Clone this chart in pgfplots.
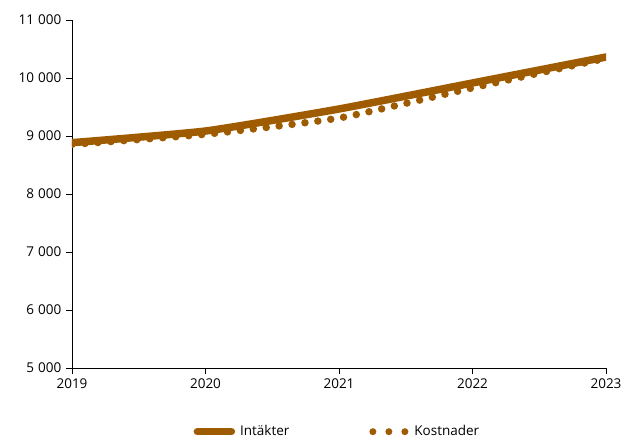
\documentclass[border=0pt]{standalone}
\usepackage{fontspec}
\setmainfont{Open Sans}
\usepackage{pgfplots}
\pgfplotsset{compat=1.18}
\definecolor{brun}{HTML}{9E5B00}
\pgfplotsset{
  linelegend/.style={legend image code/.code={\draw[##1, line width=7.5pt, line cap=round] (0pt,0pt) -- (34pt,0pt);}},
  dotlegend/.style={legend image code/.code={\draw[##1, line width=7pt, line cap=round, dash pattern=on 0pt off 16pt] (0pt,0pt) -- (33pt,0pt);}},
}
\begin{document}
\fontsize{13.5}{15}\selectfont
\begin{tikzpicture}
\useasboundingbox (-72pt,-71pt) rectangle (551pt,368pt);
\begin{axis}[
  scale only axis, width=534pt, height=348pt,
  at={(0pt,0pt)}, anchor=south west,
  xmin=2019, xmax=2023, ymin=5000, ymax=11000,
  scaled y ticks=false,
  xtick={2019,2020,2021,2022,2023},
  ytick={5000,6000,7000,8000,9000,10000,11000},
  axis x line*=bottom, axis y line*=left,
  tick align=outside, major tick length=6pt,
  tick style={black, line width=0.6pt},
  axis line style={black, line width=0.6pt},
  /pgf/number format/assume math mode=true,
  x tick label style={/pgf/number format/1000 sep={}},
  y tick label style={/pgf/number format/1000 sep={\hspace{0.3em}}},
  tick label style={font=\fontsize{13.5}{15}\selectfont},
  legend columns=2,
  legend style={draw=none, at={(0.497,-0.183)}, anchor=center,
    font=\fontsize{13.5}{15}\selectfont,
    /tikz/every odd column/.append style={column sep=3pt},
    /tikz/every even column/.append style={column sep=78pt}},
  legend cell align=left,
]
\addplot[brun, line width=7.5pt, line cap=round, line join=round, smooth, tension=0.3, linelegend]
  coordinates {(2019,8885) (2020,9086) (2021,9466) (2022,9914) (2023,10362)};
\addlegendentry{Intäkter}
\addplot[brun, line width=7.5pt, line cap=round, dash pattern=on 0pt off 13pt, smooth, tension=0.3, dotlegend]
  coordinates {(2019,8855) (2020,9030) (2021,9310) (2022,9830) (2023,10340)};
\addlegendentry{Kostnader}
\end{axis}
\end{tikzpicture}
\end{document}
